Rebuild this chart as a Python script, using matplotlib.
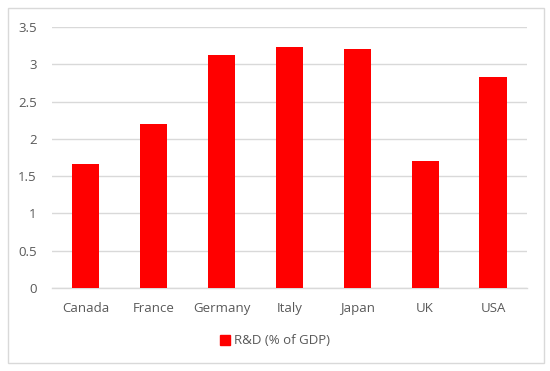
import matplotlib.pyplot as plt
import matplotlib.patches as mpatches
import numpy as np

countries = ["Canada", "France", "Germany", "Italy", "Japan", "UK", "USA"]
rd_gdp = [1.67, 2.20, 3.13, 3.23, 3.21, 1.71, 2.83]
yticks = [0, 0.5, 1, 1.5, 2, 2.5, 3, 3.5]
yticklabels = ["0", "0.5", "1", "1.5", "2", "2.5", "3", "3.5"]

plt.rcParams['font.family'] = ['Open Sans', 'DejaVu Sans']

fig = plt.figure(figsize=(5.5, 3.71), dpi=100)
ax = fig.add_axes([0.0945, 0.2237, 0.8635, 0.7033])

x = np.arange(len(countries))
ax.bar(x, rd_gdp, width=0.4, color='#ff0000', zorder=3)

ax.set_xlim(-0.5, len(countries) - 0.5)
ax.set_ylim(0, 3.5)
ax.set_yticks(yticks)
ax.set_yticklabels(yticklabels)
ax.set_xticks(x)
ax.set_xticklabels(countries)

ax.grid(axis='y', color='#d9d9d9', linewidth=1.0, zorder=0)
for s in ['top', 'right', 'left']:
    ax.spines[s].set_visible(False)
ax.spines['bottom'].set_color('#d9d9d9')
ax.spines['bottom'].set_linewidth(1.0)
ax.tick_params(axis='both', length=0, colors='#595959', labelsize=9.5)
ax.tick_params(axis='y', pad=11)
ax.tick_params(axis='x', pad=10)

# legend below the plot
handle = mpatches.Patch(color='#ff0000', label='R&D (% of GDP)')
fig.legend(handles=[handle], loc='center', bbox_to_anchor=(0.5, 1 - 341 / 371),
           frameon=False, fontsize=9.5, handlelength=0.7, handleheight=0.7,
           handletextpad=0.3, labelcolor='#595959')

# light chart border
border = mpatches.Rectangle((8 / 550, 1 - 363 / 371), 536 / 550, 355 / 371,
                            transform=fig.transFigure, fill=False,
                            edgecolor='#d9d9d9', linewidth=1.0)
fig.patches.append(border)

fig.savefig('out.png', dpi=100, facecolor='white')
